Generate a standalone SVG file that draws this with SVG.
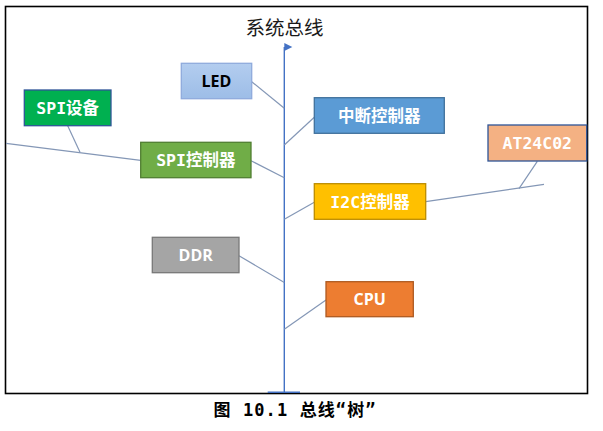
<svg xmlns="http://www.w3.org/2000/svg" width="603" height="431" viewBox="0 0 603 431">
<style>
.box{stroke-width:1.3}
.cjk{font-family:"DejaVu Sans Mono","Noto Sans CJK SC",monospace;font-weight:bold;font-size:16.5px;fill:#fff;text-anchor:middle}
.lat{font-family:"Open Sans","Noto Sans",sans-serif;font-weight:bold;font-size:16px;text-anchor:middle}
.br{stroke:#8497B6;stroke-width:1.2;fill:none}
.bus{stroke:#4472C4;stroke-width:1.4;fill:none}
</style>
<defs>
<marker id="ah" markerUnits="userSpaceOnUse" markerWidth="10" markerHeight="10" viewBox="0 0 10 10" refX="5" refY="1" orient="auto-start-reverse">
<polygon points="1,1 9,1 5,9" fill="#4472C4"/>
</marker>
<linearGradient id="ledg" x1="0" y1="0" x2="0" y2="1">
<stop offset="0" stop-color="#B3CDEF"/>
<stop offset="1" stop-color="#9DBDE7"/>
</linearGradient>
</defs>
<rect x="5.5" y="6.5" width="582" height="387" fill="none" stroke="#000" stroke-width="1.6"/>
<text x="284.5" y="35.2" font-family="Noto Sans CJK SC,sans-serif" font-size="19.5" fill="#1a1a1a" text-anchor="middle">系统总线</text>
<g id="connectors">
<line class="bus" x1="284.3" y1="392.3" x2="284.3" y2="47" marker-end="url(#ah)"/>
<line class="bus" x1="267.7" y1="392.3" x2="300" y2="392.3"/>
<line class="br" x1="251.7" y1="81.7" x2="284.3" y2="108.3"/>
<line class="br" x1="314.3" y1="117.3" x2="284.3" y2="145"/>
<line class="br" x1="67.7" y1="125.7" x2="80" y2="152.3"/>
<line class="br" x1="6" y1="143.3" x2="140.7" y2="160.3"/>
<line class="br" x1="251" y1="160.7" x2="284.3" y2="177.7"/>
<line class="br" x1="314.3" y1="202.3" x2="284.3" y2="219.3"/>
<line class="br" x1="425.7" y1="201.7" x2="544" y2="184.3"/>
<line class="br" x1="537.3" y1="161.3" x2="519" y2="188.7"/>
<line class="br" x1="239" y1="255.7" x2="284.3" y2="282.5"/>
<line class="br" x1="326" y1="300" x2="284.3" y2="329.3"/>
</g>
<g id="led">
<rect class="box" x="181.3" y="63.3" width="70.4" height="35.4" fill="url(#ledg)" stroke="#8FAADC"/>
<text class="lat" x="216.5" y="86.8" fill="#000">LED</text>
</g>
<g id="int">
<rect class="box" x="314.3" y="97.7" width="130" height="35.6" fill="#5B9BD5" stroke="#41719C"/>
<text class="cjk" x="379.3" y="121.8">中断控制器</text>
</g>
<g id="spidev">
<rect class="box" x="24.3" y="90" width="86.7" height="35.7" fill="#00B050" stroke="#2F5597"/>
<text class="cjk" x="67.7" y="114.2">SPI设备</text>
</g>
<g id="spictl">
<rect class="box" x="140.7" y="142.3" width="110.3" height="35.4" fill="#70AD47" stroke="#507E32"/>
<text class="cjk" x="195.8" y="166.3">SPI控制器</text>
</g>
<g id="at24">
<rect class="box" x="488" y="125" width="98.7" height="36" fill="#F4B183" stroke="#2F5597"/>
<text class="cjk" x="537.3" y="148.9" font-size="16">AT24C02</text>
</g>
<g id="i2c">
<rect class="box" x="314.3" y="183.7" width="111.4" height="35.6" fill="#FFC000" stroke="#BC8C00"/>
<text class="cjk" x="370" y="207.8">I2C控制器</text>
</g>
<g id="ddr">
<rect class="box" x="152.3" y="237.3" width="86.7" height="35.4" fill="#A5A5A5" stroke="#787878"/>
<text class="lat" x="195.7" y="260.8" fill="#fff">DDR</text>
</g>
<g id="cpu">
<rect class="box" x="326" y="281.7" width="87.3" height="35" fill="#ED7D31" stroke="#AE5A21"/>
<text class="lat" x="369.7" y="304.9" fill="#fff">CPU</text>
</g>
<text x="294.5" y="415.5" font-family="DejaVu Sans Mono,Noto Sans CJK SC,monospace" font-weight="bold" font-size="17" fill="#000" text-anchor="middle" textLength="162" lengthAdjust="spacing">图 10.1 总线“树”</text>
</svg>
